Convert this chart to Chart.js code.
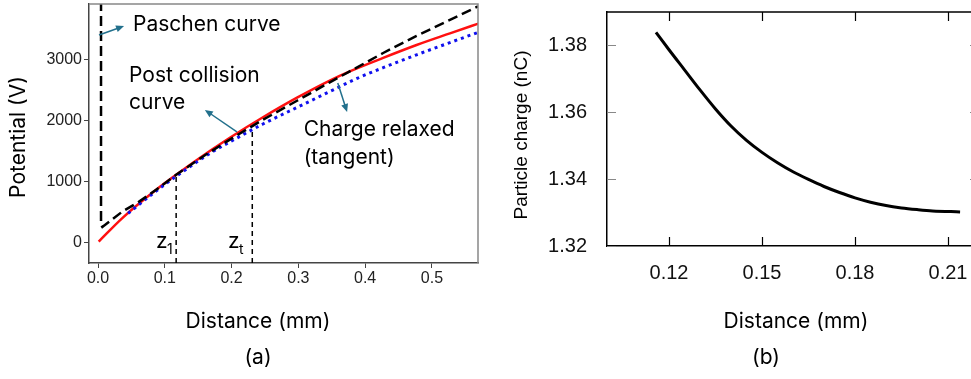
<!DOCTYPE html>
<html>
<head>
<meta charset="utf-8">
<script src="https://cdn.jsdelivr.net/npm/chart.js@4.4.1/dist/chart.umd.min.js"></script>
<style>
  html, body { margin: 0; padding: 0; background: #fff; overflow: hidden; }
  #wrap { position: relative; width: 971px; height: 379px; overflow: hidden; }
  #chartA { position: absolute; left: 0; top: 0; }
  #chartB { position: absolute; left: 500px; top: 0; }
</style>
</head>
<body>
<div id="wrap">
  <canvas id="chartA" width="500" height="379"></canvas>
  <canvas id="chartB" width="480" height="379"></canvas>
</div>
<script>
// ---- panel (a) data ----
const paschenDist = [0.0045, 0.0045, 0.0065, 0.036, 0.061, 0.087, 0.117, 0.160, 0.198, 0.247, 0.298, 0.347, 0.377, 0.427, 0.477, 0.527, 0.569, 0.58];
const paschenV    = [3950, 290, 258, 506, 669, 865, 1110, 1430, 1690, 2010, 2320, 2620, 2800, 3100, 3380, 3640, 3860, 3915];

const postDist = [0.001, 0.036, 0.087, 0.117, 0.169, 0.198, 0.247, 0.298, 0.347, 0.377, 0.427, 0.477, 0.527, 0.575];
const postV    = [20, 400, 865, 1110, 1510, 1720, 2050, 2370, 2650, 2800, 3020, 3230, 3420, 3600];

const relaxDist = [0.045, 0.087, 0.117, 0.169, 0.198, 0.247, 0.298, 0.347, 0.389, 0.427, 0.477, 0.527, 0.575];
const relaxV    = [480, 845, 1085, 1470, 1650, 1940, 2210, 2470, 2690, 2860, 3070, 3270, 3460];

const z1Dist = 0.117, z1Top = 1130;
const ztDist = 0.231, ztTop = 1876;

const xTicksA = [0, 0.1, 0.2, 0.3, 0.4, 0.5];
const yTicksA = [0, 1000, 2000, 3000];

// ---- panel (b) data ----
const chargeDist = [0.1158, 0.120, 0.125, 0.130, 0.135, 0.140, 0.145, 0.150, 0.155, 0.160, 0.165, 0.170, 0.175, 0.180, 0.185, 0.190, 0.195, 0.200, 0.205, 0.2139];
const chargeQ    = [1.3839, 1.3787, 1.3727, 1.3667, 1.3610, 1.3559, 1.3516, 1.3480, 1.3449, 1.3422, 1.3399, 1.3378, 1.3360, 1.3344, 1.3331, 1.3321, 1.3314, 1.3309, 1.3305, 1.3302];

const xTicksB = [0.12, 0.15, 0.18, 0.21];
const yTicksB = [1.32, 1.34, 1.36, 1.38];

const TEXT_FONT = '21px Inter, "Open Sans", sans-serif';
const TICK_FAMILY = '"Liberation Sans", Arial, sans-serif';
const ARROW = '#22708c';

function pts(xs, ys) {
    return xs.map((x, i) => ({ x: x, y: ys[i] }));
}

// keep the plot area exactly where afterFit puts it
function noPadY(s, w) {
    s.width = w;
    s.paddingTop = 0;
    s.paddingBottom = 0;
}
function noPadX(s, h) {
    s.height = h;
    s.paddingLeft = 0;
    s.paddingRight = 0;
}

function arrow(ctx, x1, y1, x2, y2) {
    const a = Math.atan2(y2 - y1, x2 - x1);
    ctx.save();
    ctx.strokeStyle = ARROW;
    ctx.fillStyle = ARROW;
    ctx.lineWidth = 1.5;
    ctx.beginPath();
    ctx.moveTo(x1, y1);
    ctx.lineTo(x2 - 5 * Math.cos(a), y2 - 5 * Math.sin(a));
    ctx.stroke();
    ctx.beginPath();
    ctx.moveTo(x2, y2);
    ctx.lineTo(x2 - 8 * Math.cos(a) + 3.5 * Math.sin(a), y2 - 8 * Math.sin(a) - 3.5 * Math.cos(a));
    ctx.lineTo(x2 - 8 * Math.cos(a) - 3.5 * Math.sin(a), y2 - 8 * Math.sin(a) + 3.5 * Math.cos(a));
    ctx.closePath();
    ctx.fill();
    ctx.restore();
}

const annotateA = {
    id: 'annotateA',
    afterDraw(chart) {
        const ctx = chart.ctx;
        const x = chart.scales.x, y = chart.scales.y;
        const area = chart.chartArea;
        const X = v => x.getPixelForValue(v), Y = v => y.getPixelForValue(v);

        ctx.save();
        // top and right frame
        ctx.strokeStyle = '#888';
        ctx.lineWidth = 1.5;
        ctx.beginPath();
        ctx.moveTo(area.left, area.top);
        ctx.lineTo(area.right, area.top);
        ctx.lineTo(area.right, area.bottom);
        ctx.stroke();

        ctx.fillStyle = '#000';
        ctx.font = TEXT_FONT;
        ctx.textBaseline = 'middle';
        ctx.textAlign = 'left';
        ctx.fillText('Paschen curve', X(0.0524), Y(3556));
        ctx.fillText('Post collision', X(0.0464), Y(2724));
        ctx.fillText('curve', X(0.0464), Y(2284));
        ctx.fillText('Charge relaxed', X(0.308), Y(1843));
        ctx.fillText('(tangent)', X(0.308), Y(1387));

        // z labels
        ctx.fillText('z', X(0.0868), Y(20));
        ctx.fillText('z', X(0.1946), Y(20));
        ctx.font = '14px Inter, "Open Sans", sans-serif';
        ctx.fillText('1', X(0.0868) + 11, Y(20) + 8);
        ctx.fillText('t', X(0.1946) + 11, Y(20) + 8);

        arrow(ctx, X(0.0015), Y(3393), X(0.039), Y(3540));
        arrow(ctx, X(0.208), Y(1811), X(0.160), Y(2170));
        arrow(ctx, X(0.359), Y(2610), X(0.373), Y(2137));

        // axis titles
        ctx.font = TEXT_FONT;
        ctx.textAlign = 'center';
        ctx.fillText('Distance (mm)', 258, 322);
        ctx.fillText('(a)', 258, 358);
        ctx.translate(19, 137);
        ctx.rotate(-Math.PI / 2);
        ctx.fillText('Potential (V)', 0, 0);
        ctx.restore();
    }
};

const annotateB = {
    id: 'annotateB',
    afterDraw(chart) {
        const ctx = chart.ctx;
        const x = chart.scales.x, y = chart.scales.y;
        const area = chart.chartArea;
        ctx.save();
        ctx.strokeStyle = '#000';
        ctx.lineWidth = 1.5;
        ctx.beginPath();
        ctx.moveTo(area.left, area.top);
        ctx.lineTo(area.right, area.top);
        ctx.lineTo(area.right, area.bottom);
        ctx.stroke();

        // inward ticks
        ctx.lineWidth = 1.2;
        xTicksB.forEach(v => {
            const px = Math.round(x.getPixelForValue(v)) + 0.5;
            ctx.beginPath();
            ctx.moveTo(px, area.bottom); ctx.lineTo(px, area.bottom - 9);
            ctx.moveTo(px, area.top); ctx.lineTo(px, area.top + 9);
            ctx.stroke();
        });
        ctx.strokeStyle = '#888';
        yTicksB.forEach(v => {
            const py = Math.round(y.getPixelForValue(v)) + 0.5;
            ctx.beginPath();
            ctx.moveTo(area.left, py); ctx.lineTo(area.left + 9, py);
            ctx.moveTo(area.right, py); ctx.lineTo(area.right - 9, py);
            ctx.stroke();
        });

        ctx.fillStyle = '#000';
        ctx.textBaseline = 'middle';
        ctx.textAlign = 'center';
        ctx.font = TEXT_FONT;
        ctx.fillText('Distance (mm)', 296, 322);
        ctx.fillText('(b)', 266, 358);
        ctx.font = '19px ' + TICK_FAMILY;
        ctx.translate(22, 135);
        ctx.rotate(-Math.PI / 2);
        ctx.fillText('Particle charge (nC)', 0, 0);
        ctx.restore();
    }
};

const chartA = new Chart(document.getElementById('chartA'), {
    type: 'line',
    data: {
        datasets: [
            {
                label: 'Paschen curve',
                data: pts(paschenDist, paschenV),
                borderColor: '#000',
                borderWidth: 2.5,
                borderDash: [10, 5],
                pointRadius: 0,
                tension: 0
            },
            {
                label: 'Charge relaxed (tangent)',
                data: pts(relaxDist, relaxV),
                borderColor: '#1010ee',
                borderWidth: 3,
                borderDash: [3, 4],
                pointRadius: 0,
                cubicInterpolationMode: 'monotone'
            },
            {
                label: 'Post collision curve',
                data: pts(postDist, postV),
                borderColor: '#ff1010',
                borderWidth: 2.5,
                pointRadius: 0,
                cubicInterpolationMode: 'monotone'
            },
            {
                label: 'z1',
                data: [{ x: z1Dist, y: -330 }, { x: z1Dist, y: z1Top }],
                borderColor: '#000',
                borderWidth: 1.5,
                borderDash: [5, 4],
                pointRadius: 0
            },
            {
                label: 'zt',
                data: [{ x: ztDist, y: -330 }, { x: ztDist, y: ztTop }],
                borderColor: '#000',
                borderWidth: 1.5,
                borderDash: [5, 4],
                pointRadius: 0
            }
        ]
    },
    options: {
        responsive: false,
        animation: false,
        layout: { padding: { top: 4, right: 22, left: 0, bottom: 0 } },
        plugins: { legend: { display: false }, tooltip: { enabled: false } },
        scales: {
            x: {
                type: 'linear',
                min: -0.0135,
                max: 0.569,
                afterFit: s => noPadX(s, 116),
                afterBuildTicks: s => { s.ticks = xTicksA.map(v => ({ value: v })); },
                grid: { drawOnChartArea: false, drawTicks: true, tickLength: 5, color: '#444' },
                border: { display: true, color: '#444', width: 1.5 },
                ticks: {
                    padding: 1,
                    color: '#222',
                    font: { family: TICK_FAMILY, size: 16 },
                    maxRotation: 0,
                    callback: v => v.toFixed(1)
                }
            },
            y: {
                type: 'linear',
                min: -330,
                max: 3900,
                afterFit: s => noPadY(s, 89),
                afterBuildTicks: s => { s.ticks = yTicksA.map(v => ({ value: v })); },
                grid: { drawOnChartArea: false, drawTicks: true, tickLength: 5, color: '#444' },
                border: { display: true, color: '#444', width: 1.5 },
                ticks: {
                    padding: 2,
                    color: '#222',
                    font: { family: TICK_FAMILY, size: 16 },
                    callback: v => String(v)
                }
            }
        }
    },
    plugins: [annotateA]
});

const chartB = new Chart(document.getElementById('chartB'), {
    type: 'line',
    data: {
        datasets: [{
            label: 'Particle charge',
            data: pts(chargeDist, chargeQ),
            borderColor: '#000',
            borderWidth: 3,
            pointRadius: 0,
            cubicInterpolationMode: 'monotone'
        }]
    },
    options: {
        responsive: false,
        animation: false,
        layout: { padding: { top: 12, right: 1, left: 0, bottom: 0 } },
        plugins: { legend: { display: false }, tooltip: { enabled: false } },
        scales: {
            x: {
                type: 'linear',
                min: 0.100,
                max: 0.220,
                afterFit: s => noPadX(s, 133),
                afterBuildTicks: s => { s.ticks = xTicksB.map(v => ({ value: v })); },
                grid: { display: false },
                border: { display: true, color: '#000', width: 1.5 },
                ticks: {
                    padding: 7,
                    color: '#111',
                    font: { family: TICK_FAMILY, size: 20 },
                    maxRotation: 0,
                    callback: v => v.toFixed(2)
                }
            },
            y: {
                type: 'linear',
                min: 1.32,
                max: 1.39,
                afterFit: s => noPadY(s, 107),
                afterBuildTicks: s => { s.ticks = yTicksB.map(v => ({ value: v })); },
                grid: { display: false },
                border: { display: true, color: '#000', width: 1.5 },
                ticks: {
                    padding: 12,
                    color: '#111',
                    font: { family: TICK_FAMILY, size: 20 },
                    callback: v => v.toFixed(2)
                }
            }
        }
    },
    plugins: [annotateB]
});
</script>
</body>
</html>
